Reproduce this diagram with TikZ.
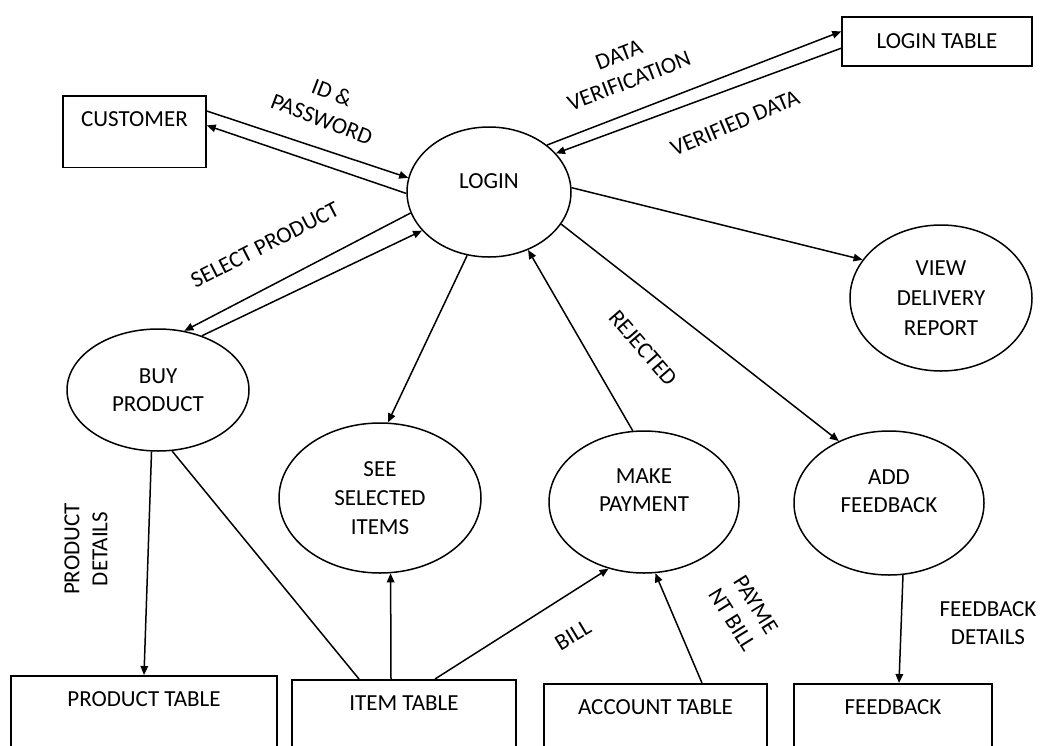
\documentclass[tikz,border=0pt]{standalone}
\usepackage{fontspec}
\setmainfont{Carlito}
\usetikzlibrary{arrows.meta,shapes.geometric}
\tikzset{
	proc/.style={draw, ellipse, line width=1.5pt, inner sep=0pt, align=center},
	ent/.style={draw, rectangle, line width=1.5pt, inner xsep=0pt, inner ysep=16pt, align=center},
	flow/.style={line width=1.5pt, -{Triangle[length=9pt,width=7.5pt]}},
	link/.style={line width=1.5pt},
	lbl/.style={align=center, inner sep=0pt}
}

\begin{document}
\begin{tikzpicture}[x=1pt, y=-1pt, font=\fontsize{23}{28}\selectfont]
			%%%%% START %%%%%
			
			\clip (0,0) rectangle (1055,745);
			\fill[white] (0,0) rectangle (1055,745);
			
			% entities
			\node[ent, minimum width=143pt, text depth=25pt, anchor=north] (cust) at (134.5,95) {CUSTOMER};
			\node[ent, minimum width=190pt, minimum height=49pt] (ltab) at (937,41.5) {LOGIN TABLE};
			\node[ent, minimum width=266pt, text depth=60pt, anchor=north] (ptab) at (144,675) {PRODUCT TABLE};
			\node[ent, minimum width=224pt, text depth=60pt, anchor=north] (itab) at (404,679) {ITEM TABLE};
			\node[ent, minimum width=223pt, text depth=60pt, anchor=north] (atab) at (655.5,683) {ACCOUNT TABLE};
			\node[ent, minimum width=198pt, text depth=60pt, anchor=north] (fbtab) at (893,683) {FEEDBACK};
			
			% processes
			\node[proc, minimum width=164pt, minimum height=130pt, text depth=22pt] (login) at (489,192) {LOGIN};
			\node[proc, minimum width=182pt, minimum height=122pt] (buy) at (158,390) {BUY\\PRODUCT};
			\node[proc, minimum width=202pt, minimum height=150pt, font=\fontsize{23}{29}\selectfont] (see) at (380,498) {SEE\\SELECTED\\ITEMS};
			\node[proc, minimum width=190pt, minimum height=142pt, text depth=24pt] (pay) at (644,502) {MAKE\\PAYMENT};
			\node[proc, minimum width=190pt, minimum height=144pt, text depth=24pt] (addfb) at (889,503) {ADD\\FEEDBACK};
			\node[proc, minimum width=182pt, minimum height=146pt, font=\fontsize{23}{30}\selectfont] (view) at (941,298) {VIEW\\DELIVERY\\REPORT};
			
			% flows
			\draw[flow] (cust.16) -- (login.170);
			\draw[flow] (login.181) -- (cust.5);
			\draw[flow] (login.39) -- (ltab.174);
			\draw[flow] (ltab.184) -- (login.30);
			\draw[flow] (login.195) -- (buy.66);
			\draw[flow] (buy.51) -- (login.210);
			\draw[flow] (login.251) -- (see.84);
			\draw[flow] (login.3) -- (view.154);
			\draw[flow] (login.336) -- (addfb.129);
			\draw[flow] (pay.99) -- (login.304);
			\draw[flow] (buy.264) -- (ptab.north);
			\draw[link] (buy.283) -- ([xshift=-45pt]itab.north);
			\draw[flow] ([xshift=-13pt]itab.north) -- (see.278);
			\draw[flow] ([xshift=31pt]itab.north) -- (pay.242);
			\draw[flow] ([xshift=46.5pt]atab.north) -- (pay.279);
			\draw[flow] (addfb.281) -- ([xshift=6pt]fbtab.north);
			
			% labels
			\node[lbl, rotate=-21] (lid) at (327,106) {ID \&\\PASSWORD};
			\node[lbl, rotate=27] (lsel) at (265,245) {SELECT PRODUCT};
			\node[lbl, rotate=21] (lver) at (624,68) {DATA\\VERIFICATION};
			\node[lbl, rotate=23] (lvd) at (735,123) {VERIFIED DATA};
			\node[lbl, rotate=-49] (lrej) at (643,348) {REJECTED};
			\node[lbl, rotate=90] (lpd) at (86,549) {PRODUCT\\DETAILS};
			\node[lbl, rotate=31] (lbill) at (573,635) {BILL};
			\node[lbl, rotate=-58] (lpb) at (744,612) {PAYME\\NT BILL};
			\node[lbl] (lfd) at (988,623) {FEEDBACK\\DETAILS};
			
			%%%%% END %%%%%
\end{tikzpicture}
\end{document}
